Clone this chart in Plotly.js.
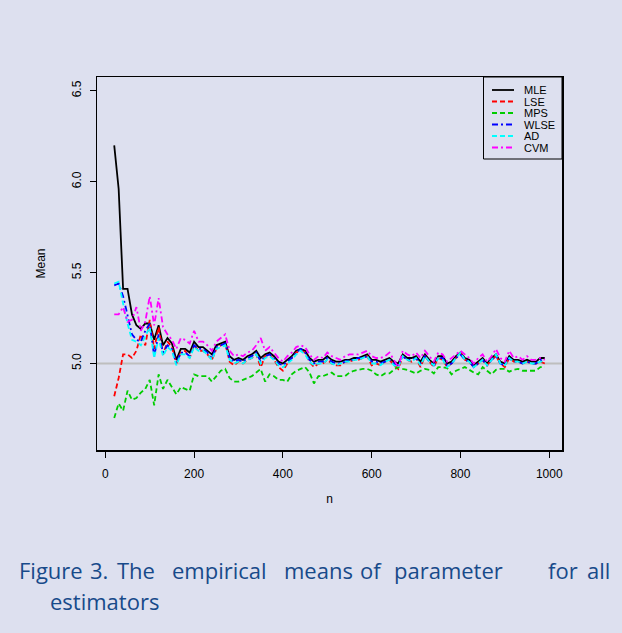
<!DOCTYPE html>
<html>
<head>
<meta charset="utf-8">
<script src="https://cdn.plot.ly/plotly-3.0.1.min.js"></script>
<style>
html,body{margin:0;padding:0;background:#dde0ef;}
#chart{width:622px;height:633px;}
</style>
</head>
<body>
<div id="chart"></div>
<script>
// sample sizes n = 20, 30, ..., 990
var nValues = [20,30,40,50,60,70,80,90,100,110,
 120,130,140,150,160,170,180,190,200,210,
 220,230,240,250,260,270,280,290,300,310,
 320,330,340,350,360,370,380,390,400,410,
 420,430,440,450,460,470,480,490,500,510,
 520,530,540,550,560,570,580,590,600,610,
 620,630,640,650,660,670,680,690,700,710,
 720,730,740,750,760,770,780,790,800,810,
 820,830,840,850,860,870,880,890,900,910,
 920,930,940,950,960,970,980,990];

var mle = [6.20,5.96,5.41,5.41,5.27,5.21,5.19,5.22,5.22,5.13,
 5.21,5.10,5.14,5.11,5.02,5.08,5.08,5.06,5.12,5.09,
 5.09,5.07,5.05,5.10,5.11,5.12,5.04,5.02,5.03,5.02,
 5.04,5.05,5.07,5.03,5.05,5.06,5.04,5.01,5.00,5.02,
 5.04,5.07,5.08,5.07,5.03,5.01,5.02,5.02,5.04,5.02,
 5.01,5.01,5.02,5.02,5.03,5.03,5.04,5.05,5.02,5.02,
 5.01,5.02,5.03,5.01,5.00,5.05,5.03,5.03,5.04,5.01,
 5.05,5.02,5.00,5.04,5.04,5.00,5.01,5.04,5.06,5.03,
 5.02,4.99,5.01,5.03,5.00,5.03,5.05,5.01,5.00,5.04,
 5.02,5.02,5.01,5.02,5.01,5.01,5.03,5.03];

var lse = [4.82,4.92,5.05,5.05,5.03,5.07,5.16,5.10,5.24,5.08,
 5.20,5.05,5.12,5.09,5.00,5.06,5.07,5.03,5.10,5.07,
 5.07,5.05,5.02,5.08,5.10,5.11,5.01,4.99,5.01,5.00,
 5.02,5.03,5.05,4.98,5.04,5.05,5.02,4.98,4.96,5.00,
 5.03,5.06,5.07,5.06,5.01,4.98,5.00,5.00,5.02,5.00,
 4.99,4.99,5.01,5.01,5.02,5.02,5.03,5.04,4.99,5.00,
 4.99,5.01,5.02,4.99,4.97,5.04,5.02,5.01,5.03,4.98,
 5.04,5.01,4.98,5.03,5.02,4.98,5.00,5.03,5.06,5.02,
 5.01,4.98,5.00,5.02,4.99,5.02,5.04,5.00,4.98,5.03,
 5.01,5.01,5.00,5.01,5.00,5.00,5.01,5.00];

var mps = [4.70,4.78,4.74,4.85,4.80,4.81,4.84,4.86,4.91,4.77,
 4.94,4.86,4.91,4.87,4.83,4.87,4.86,4.85,4.94,4.93,
 4.93,4.93,4.90,4.93,4.96,4.97,4.92,4.90,4.90,4.91,
 4.92,4.93,4.95,4.97,4.90,4.94,4.93,4.91,4.91,4.90,
 4.94,4.96,4.97,4.98,4.95,4.89,4.93,4.93,4.94,4.95,
 4.93,4.93,4.93,4.95,4.96,4.965,4.97,4.97,4.96,4.94,
 4.93,4.945,4.945,4.965,4.98,4.97,4.965,4.955,4.945,4.96,
 4.97,4.965,4.945,4.98,4.98,4.975,4.94,4.96,4.97,4.98,
 4.965,4.95,4.94,4.98,4.96,4.94,4.965,4.97,4.97,4.955,
 4.965,4.97,4.96,4.96,4.96,4.96,4.98,4.98];

var wlse = [5.43,5.44,5.37,5.27,5.16,5.13,5.12,5.18,5.22,5.04,
 5.16,5.06,5.10,5.08,5.00,5.06,5.06,5.04,5.10,5.08,
 5.08,5.06,5.03,5.09,5.10,5.11,5.03,5.01,5.02,5.01,
 5.03,5.04,5.06,5.01,5.04,5.05,5.03,5.00,4.99,5.01,
 5.03,5.06,5.08,5.06,5.02,5.00,5.01,5.01,5.03,5.01,
 5.00,5.00,5.01,5.02,5.02,5.03,5.03,5.04,5.01,5.01,
 5.00,5.01,5.02,5.00,4.99,5.04,5.02,5.02,5.03,5.00,
 5.04,5.01,4.99,5.03,5.03,4.99,5.00,5.03,5.05,5.02,
 5.01,4.98,5.00,5.02,4.99,5.02,5.04,5.00,4.99,5.03,
 5.01,5.01,5.00,5.01,5.00,5.00,5.02,5.01];

var ad = [5.44,5.45,5.33,5.22,5.13,5.12,5.10,5.15,5.20,5.03,
 5.14,5.04,5.09,5.07,4.99,5.05,5.05,5.03,5.09,5.07,
 5.07,5.05,5.02,5.08,5.09,5.10,5.02,5.00,5.01,5.00,
 5.02,5.03,5.05,5.00,5.03,5.04,5.02,4.99,4.98,5.00,
 5.02,5.05,5.07,5.05,5.01,4.99,5.00,5.00,5.02,5.00,
 4.99,5.00,5.01,5.01,5.02,5.02,5.03,5.04,5.00,5.00,
 4.99,5.01,5.02,4.99,4.98,5.04,5.02,5.01,5.03,4.99,
 5.04,5.01,4.99,5.03,5.02,4.98,5.00,5.03,5.06,5.02,
 5.01,4.98,5.00,5.02,4.99,5.02,5.05,5.00,4.99,5.03,
 5.01,5.01,5.00,5.01,5.00,5.00,5.01,5.01];

var cvm = [5.27,5.27,5.31,5.23,5.24,5.31,5.18,5.23,5.37,5.21,
 5.36,5.20,5.16,5.13,5.08,5.14,5.13,5.11,5.18,5.12,
 5.12,5.10,5.07,5.12,5.14,5.16,5.07,5.04,5.05,5.04,
 5.06,5.07,5.10,5.14,5.07,5.09,5.06,5.03,5.01,5.04,
 5.06,5.09,5.10,5.09,5.05,5.02,5.04,5.03,5.06,5.04,
 5.03,5.02,5.04,5.05,5.05,5.05,5.06,5.07,5.04,5.03,
 5.03,5.04,5.06,5.02,4.98,5.07,5.05,5.04,5.06,5.03,
 5.07,5.04,5.01,5.06,5.05,5.01,5.03,5.05,5.07,5.05,
 5.03,5.00,5.03,5.05,5.01,5.04,5.08,5.03,5.01,5.07,
 5.03,5.04,5.02,5.04,5.02,5.02,5.03,5.02];

var seriesNames = ["MLE","LSE","MPS","WLSE","AD","CVM"];
var seriesData = [mle, lse, mps, wlse, ad, cvm];
var seriesColors = ["#000000","#ff0000","#00cd00","#0000ff","#00ffff","#ff00ff"];
var seriesDash = ["solid","5px,3px","5px,3px","6px,3px,2px,3px","5px,3px","6px,3px,2px,3px"];

var xTicks = [0,200,400,600,800,1000];
var yTicks = [5.0,5.5,6.0,6.5];
var yTickText = ["5.0","5.5","6.0","6.5"];
var trueValue = 5.0;

var traces = seriesNames.map(function(name,i){
  return {
    x: nValues, y: seriesData[i], name: name, type: "scatter", mode: "lines",
    line: {color: seriesColors[i], width: 1.8, dash: seriesDash[i]},
    showlegend: false
  };
});

// plot area in pixels (for paper-coordinate conversion of decorations)
var PL = 97, PR = 562, PT = 77, PB = 450;
function px(x){ return (x-PL)/(PR-PL); }
function py(y){ return (PB-y)/(PB-PT); }

var bg = "#dde0ef";
var layout = {
  width: 622, height: 633,
  paper_bgcolor: bg, plot_bgcolor: bg,
  margin: {l: PL, r: 622-PR, t: PT, b: 633-PB},
  font: {family: "Liberation Sans, Arial, sans-serif", color: "#000", size: 11},
  xaxis: {
    range: [-18.8, 1028.8], tickvals: xTicks, ticks: "outside", ticklen: 6,
    tickwidth: 1, tickcolor: "#000", showgrid: false, zeroline: false,
    showline: true, mirror: true, linecolor: "#000", linewidth: 1.5,
    tickfont: {size: 12}, ticklabelstandoff: 6,
    title: {text: "n", font: {size: 12}, standoff: 14}
  },
  yaxis: {
    range: [4.524, 6.576], tickvals: yTicks, ticktext: yTickText, ticks: "outside",
    ticklen: 6, tickwidth: 1, tickcolor: "#000", showgrid: false, zeroline: false,
    showline: true, mirror: true, linecolor: "#000", linewidth: 1.5,
    tickangle: -90, tickfont: {size: 12}, ticklabelstandoff: 4,
    title: {text: "Mean", font: {size: 12}, standoff: 21}
  },
  shapes: [{
    type: "line", xref: "paper", x0: 0, x1: 1, yref: "y", y0: trueValue, y1: trueValue,
    line: {color: "#bebebe", width: 2}, layer: "below"
  }, {
    type: "rect", xref: "paper", yref: "paper",
    x0: px(483.5), x1: 1, y0: py(159), y1: 1,
    line: {color: "#000", width: 1}, fillcolor: "rgba(0,0,0,0)"
  }],
  annotations: []
};

// legend (compact, like the R legend box)
var legendRowY = [90, 101.5, 113, 124.5, 136, 147.5];
seriesNames.forEach(function(name,i){
  layout.shapes.push({
    type: "line", xref: "paper", yref: "paper",
    x0: px(492), x1: px(514), y0: py(legendRowY[i]), y1: py(legendRowY[i]),
    line: {color: seriesColors[i], width: 1.8, dash: seriesDash[i]}
  });
  layout.annotations.push({
    text: name, xref: "paper", yref: "paper", showarrow: false,
    x: px(522), y: py(legendRowY[i]), xanchor: "left", yanchor: "middle",
    font: {size: 11, color: "#000"}
  });
});

// caption, word by word to mimic the justified text
var captionWords = ["Figure","3.","The","empirical","means","of","parameter","for","all"];
var captionX = [17,88,115,170,282,358,392,546,585];
captionWords.forEach(function(w,i){
  layout.annotations.push({
    text: w, xref: "paper", yref: "paper", showarrow: false,
    x: px(captionX[i]), y: py(570), xanchor: "left", yanchor: "middle",
    font: {family: "Open Sans, Noto Sans, sans-serif", size: 22, color: "#174a8a"}
  });
});
layout.annotations.push({
  text: "estimators", xref: "paper", yref: "paper", showarrow: false,
  x: px(48), y: py(601), xanchor: "left", yanchor: "middle",
  font: {family: "Open Sans, Noto Sans, sans-serif", size: 22, color: "#174a8a"}
});

Plotly.newPlot("chart", traces, layout, {displayModeBar: false, staticPlot: true});
</script>
</body>
</html>
